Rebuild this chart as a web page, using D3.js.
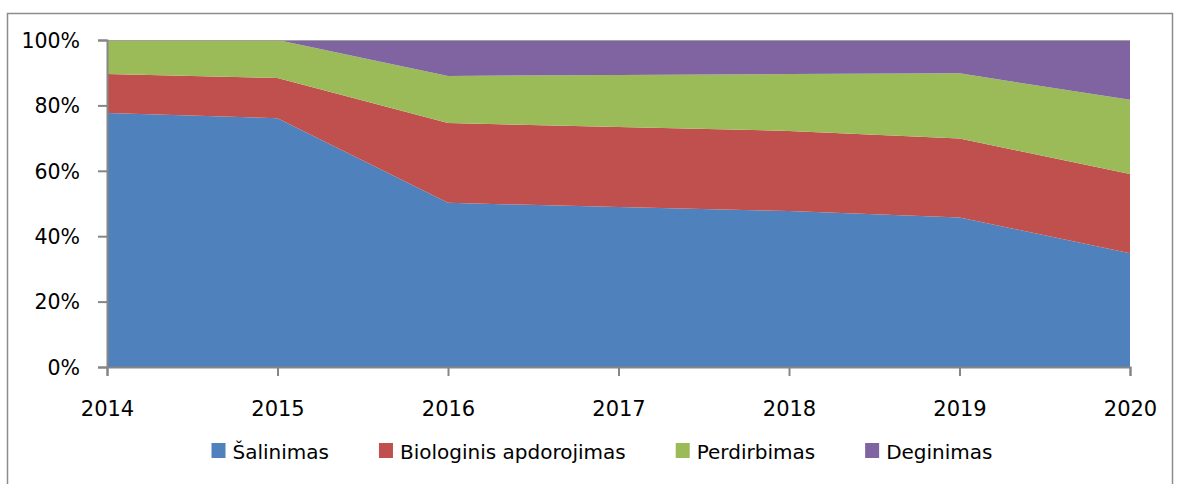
<!DOCTYPE html>
<html>
<head>
<meta charset="utf-8">
<script src="https://cdn.jsdelivr.net/npm/d3@7"></script>
<style>
  body { margin: 0; background: #fff; }
  svg text { font-family: "DejaVu Sans", sans-serif; fill: #000; }
</style>
</head>
<body>
<svg id="chart" width="1179" height="484"></svg>
<script>
(function() {

    // data (% of total)
    var years = ["2014", "2015", "2016", "2017", "2018", "2019", "2020"];
    var salinimas   = [77.7, 76.1, 50.2, 48.9, 47.7, 45.7, 34.8];
    var biologinis  = [11.9, 12.3, 24.4, 24.5, 24.5, 24.2, 24.2];
    var perdirbimas = [10.4, 11.6, 14.4, 15.9, 17.4, 19.9, 22.7];
    var deginimas   = [0, 0, 11.0, 10.7, 10.4, 10.2, 18.3];
    var seriesNames = ["Šalinimas", "Biologinis apdorojimas", "Perdirbimas", "Deginimas"];
    var colors = ["#4f81bd", "#c0504d", "#9bbb59", "#8064a2"];
    var yTicks = [0, 20, 40, 60, 80, 100];

    var svg = d3.select("#chart"),
        left = 107, right = 1130, top = 40, bottom = 367,
        font = "'DejaVu Sans', sans-serif";

    var rows = years.map(function(y, i) {
        return { year: y, s0: salinimas[i], s1: biologinis[i], s2: perdirbimas[i], s3: deginimas[i] };
    });
    var keys = ["s0", "s1", "s2", "s3"];
    var stack = d3.stack().keys(keys).offset(d3.stackOffsetExpand)(rows);

    var x = d3.scalePoint().domain(years).range([left, right]);
    var y = d3.scaleLinear().domain([0, 1]).range([bottom, top]);

    // outer frame
    svg.append("rect")
        .attr("x", 7.5).attr("y", 13.5)
        .attr("width", 1165).attr("height", 500)
        .attr("fill", "none").attr("stroke", "#8c8c8c").attr("stroke-width", 1.5);

    var area = d3.area()
        .x(function(d) { return x(d.data.year); })
        .y0(function(d) { return y(d[0]); })
        .y1(function(d) { return y(d[1]); });

    svg.append("g").selectAll("path")
        .data(stack)
        .enter().append("path")
        .attr("d", area)
        .attr("fill", function(d, i) { return colors[i]; });

    // top edge line of plot
    svg.append("line")
        .attr("x1", left).attr("x2", right)
        .attr("y1", top + 0.5).attr("y2", top + 0.5)
        .attr("stroke", "#a0a0a0").attr("stroke-width", 1);

    // y axis
    var yAxis = svg.append("g")
        .attr("transform", "translate(" + left + ",0)")
        .call(d3.axisLeft(y).tickValues(yTicks.map(function(v) { return v / 100; }))
            .tickFormat(function(v) { return Math.round(v * 100) + "%"; })
            .tickSize(9).tickPadding(18));
    yAxis.select(".domain").attr("stroke", "#868686").attr("stroke-width", 2);
    yAxis.selectAll(".tick line").attr("stroke", "#868686").attr("stroke-width", 2);
    yAxis.selectAll("text").attr("font-size", "20.5px").attr("dy", "0.36em")
        .style("font-family", font).attr("fill", "#000");

    // x axis
    var xAxis = svg.append("g")
        .attr("transform", "translate(0," + bottom + ")")
        .call(d3.axisBottom(x).tickSize(9).tickPadding(25));
    xAxis.select(".domain").attr("stroke", "#868686").attr("stroke-width", 2);
    xAxis.selectAll(".tick line").attr("stroke", "#868686").attr("stroke-width", 2);
    xAxis.selectAll("text").attr("font-size", "21px")
        .style("font-family", font).attr("fill", "#000");

    // legend
    var gap = 50;
    var legend = svg.append("g");
    var items = legend.selectAll("g").data(seriesNames).enter().append("g");
    items.append("rect")
        .attr("width", 14).attr("height", 15)
        .attr("y", 443)
        .attr("fill", function(d, i) { return colors[i]; });
    items.append("text")
        .attr("x", 21).attr("y", 459)
        .attr("font-size", "20px")
        .text(function(d) { return d; });

    var pos = 0, offsets = [];
    items.each(function() {
        offsets.push(pos);
        pos += 21 + d3.select(this).select("text").node().getComputedTextLength() + gap;
    });
    var total = pos - gap, start = 602 - total / 2;
    items.attr("transform", function(d, i) { return "translate(" + (start + offsets[i]) + ",0)"; });
})();
</script>
</body>
</html>
